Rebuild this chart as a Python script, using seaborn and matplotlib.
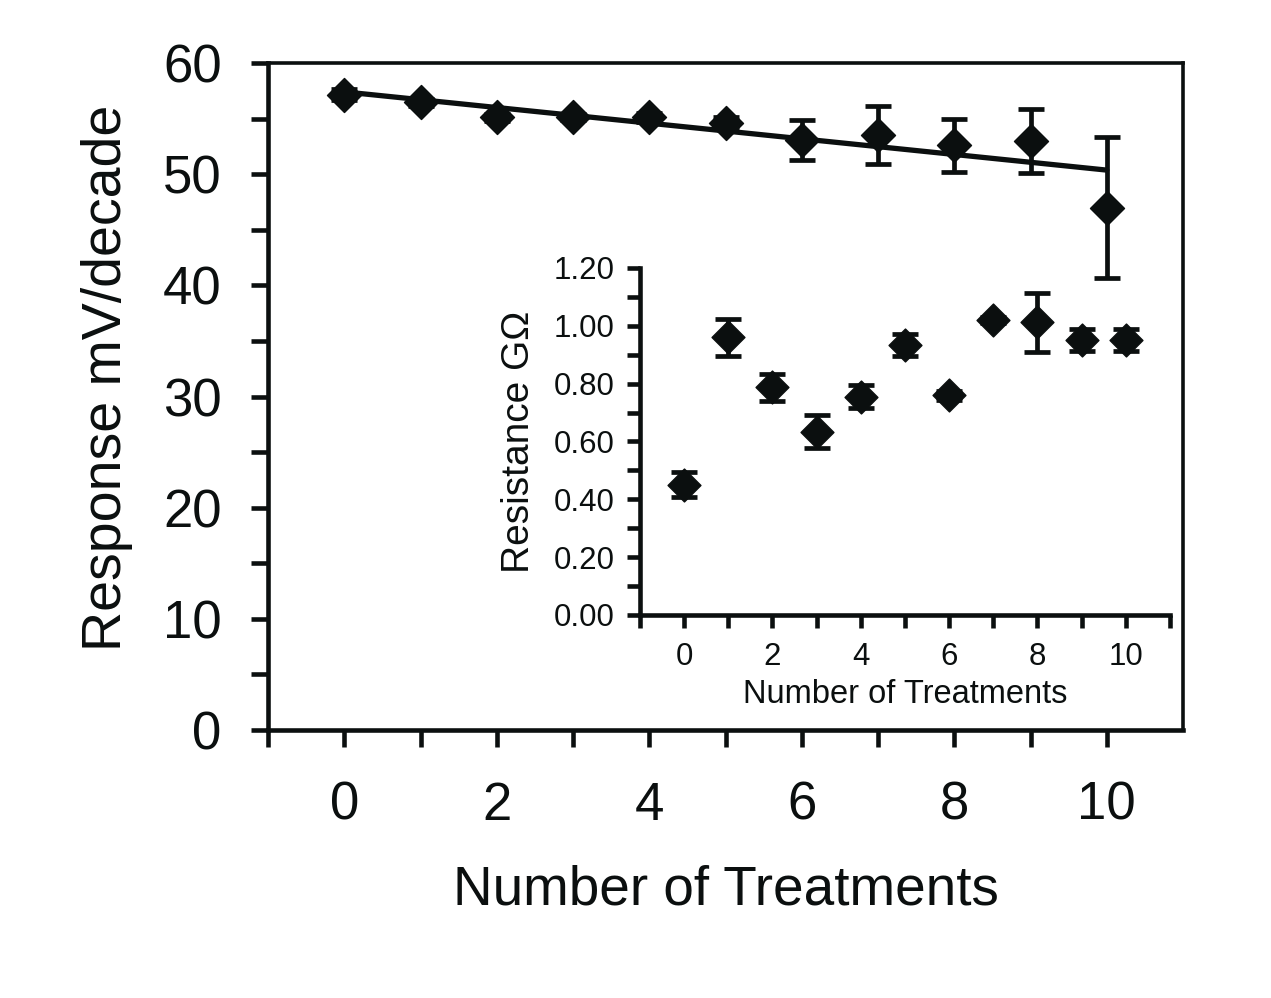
import numpy as np
import pandas as pd
import matplotlib
matplotlib.use("Agg")
import matplotlib.pyplot as plt
import seaborn as sns
from matplotlib.ticker import MultipleLocator, FixedLocator, FixedFormatter

# ---- data ----
treatments = [0, 1, 2, 3, 4, 5, 6, 7, 8, 9, 10]
response = [57.15, 56.45, 55.1, 55.15, 55.1, 54.6, 53.05, 53.5, 52.6, 53.0, 47.0]
response_err = [0.5, 0.3, 0.3, 0.3, 0.4, 0.5, 1.8, 2.6, 2.4, 2.9, 6.3]

resistance = [0.45, 0.96, 0.787, 0.634, 0.754, 0.934, 0.76, 1.019, 1.012, 0.952, 0.952]
resistance_err = [0.043, 0.064, 0.047, 0.057, 0.04, 0.037, 0.015, 0.01, 0.103, 0.038, 0.038]

main_xticks = list(range(-1, 11))
main_xlabels = ["", "0", "", "2", "", "4", "", "6", "", "8", "", "10"]
inset_xticks = list(range(-1, 12))
inset_xlabels = ["", "0", "", "2", "", "4", "", "6", "", "8", "", "10", ""]

df_main = pd.DataFrame({"x": treatments, "y": response, "e": response_err})
df_in = pd.DataFrame({"x": treatments, "y": resistance, "e": resistance_err})

sns.set_theme(style="ticks")
plt.rcParams["font.family"] = ["Liberation Sans", "DejaVu Sans"]
INK = "#0b0f0f"

fig = plt.figure(figsize=(12.71, 9.98), dpi=100)
ax = fig.add_axes([0.2109, 0.2685, 0.9308 - 0.2109, 0.9369 - 0.2685])

# main errorbars
ax.errorbar(df_main["x"], df_main["y"], yerr=df_main["e"], fmt="none",
            ecolor=INK, elinewidth=3.4, capsize=9.5, capthick=3.4, zorder=2)
# fit line
sns.regplot(data=df_main, x="x", y="y", scatter=False, ci=None, ax=ax,
            line_kws=dict(color=INK, lw=3.8, zorder=3), truncate=True)
# markers
sns.scatterplot(data=df_main, x="x", y="y", marker="D", s=300, color=INK,
                edgecolor=INK, linewidth=1, ax=ax, zorder=4)

ax.set_xlim(-1, 11)
ax.set_ylim(0, 60)
ax.xaxis.set_major_locator(FixedLocator(main_xticks))
ax.xaxis.set_major_formatter(FixedFormatter(main_xlabels))
ax.yaxis.set_major_locator(MultipleLocator(10))
ax.yaxis.set_minor_locator(MultipleLocator(5))
ax.tick_params(axis="both", which="both", direction="out", length=12.5,
               width=3.3, color=INK, labelsize=38, labelcolor=INK)
ax.tick_params(axis="y", which="major", pad=21)
ax.tick_params(axis="x", which="major", pad=24)
ax.set_xlabel("Number of Treatments", fontsize=39.5, color=INK, labelpad=24)
ax.set_ylabel("Response mV/decade", fontsize=40, color=INK)
ax.yaxis.set_label_coords(-0.148, 0.528)
for side in ["left", "bottom"]:
    ax.spines[side].set_linewidth(3.3)
    ax.spines[side].set_color(INK)
for side in ["top", "right"]:
    ax.spines[side].set_linewidth(2.6)
    ax.spines[side].set_color(INK)
ax.set_facecolor("white")

# ---- inset ----
axi = fig.add_axes([0.5035, 0.3838, 0.9205 - 0.5035, 0.7315 - 0.3838])
axi.set_facecolor("none")
axi.errorbar(df_in["x"], df_in["y"], yerr=df_in["e"], fmt="none",
             ecolor=INK, elinewidth=3.4, capsize=9.5, capthick=3.4, zorder=2)
sns.scatterplot(data=df_in, x="x", y="y", marker="D", s=280, color=INK,
                edgecolor=INK, linewidth=1, ax=axi, zorder=4)
axi.set_xlim(-1, 11)
axi.set_ylim(0, 1.2)
axi.xaxis.set_major_locator(FixedLocator(inset_xticks))
axi.xaxis.set_major_formatter(FixedFormatter(inset_xlabels))
axi.yaxis.set_major_locator(MultipleLocator(0.2))
axi.yaxis.set_minor_locator(MultipleLocator(0.1))
axi.yaxis.set_major_formatter(matplotlib.ticker.FormatStrFormatter("%.2f"))
axi.tick_params(axis="both", which="both", direction="out", length=9.5,
                width=3.3, color=INK, labelsize=22.5, labelcolor=INK)
axi.tick_params(axis="y", which="major", pad=9)
axi.tick_params(axis="x", which="major", pad=10)
axi.set_xlabel("Number of Treatments", fontsize=23.5, color=INK, labelpad=5)
axi.set_ylabel("Resistance G\u03a9", fontsize=28, color=INK, labelpad=12)
sns.despine(ax=axi)
for side in ["left", "bottom"]:
    axi.spines[side].set_linewidth(3.3)
    axi.spines[side].set_color(INK)

fig.savefig("out.png", dpi=100, facecolor="white")
